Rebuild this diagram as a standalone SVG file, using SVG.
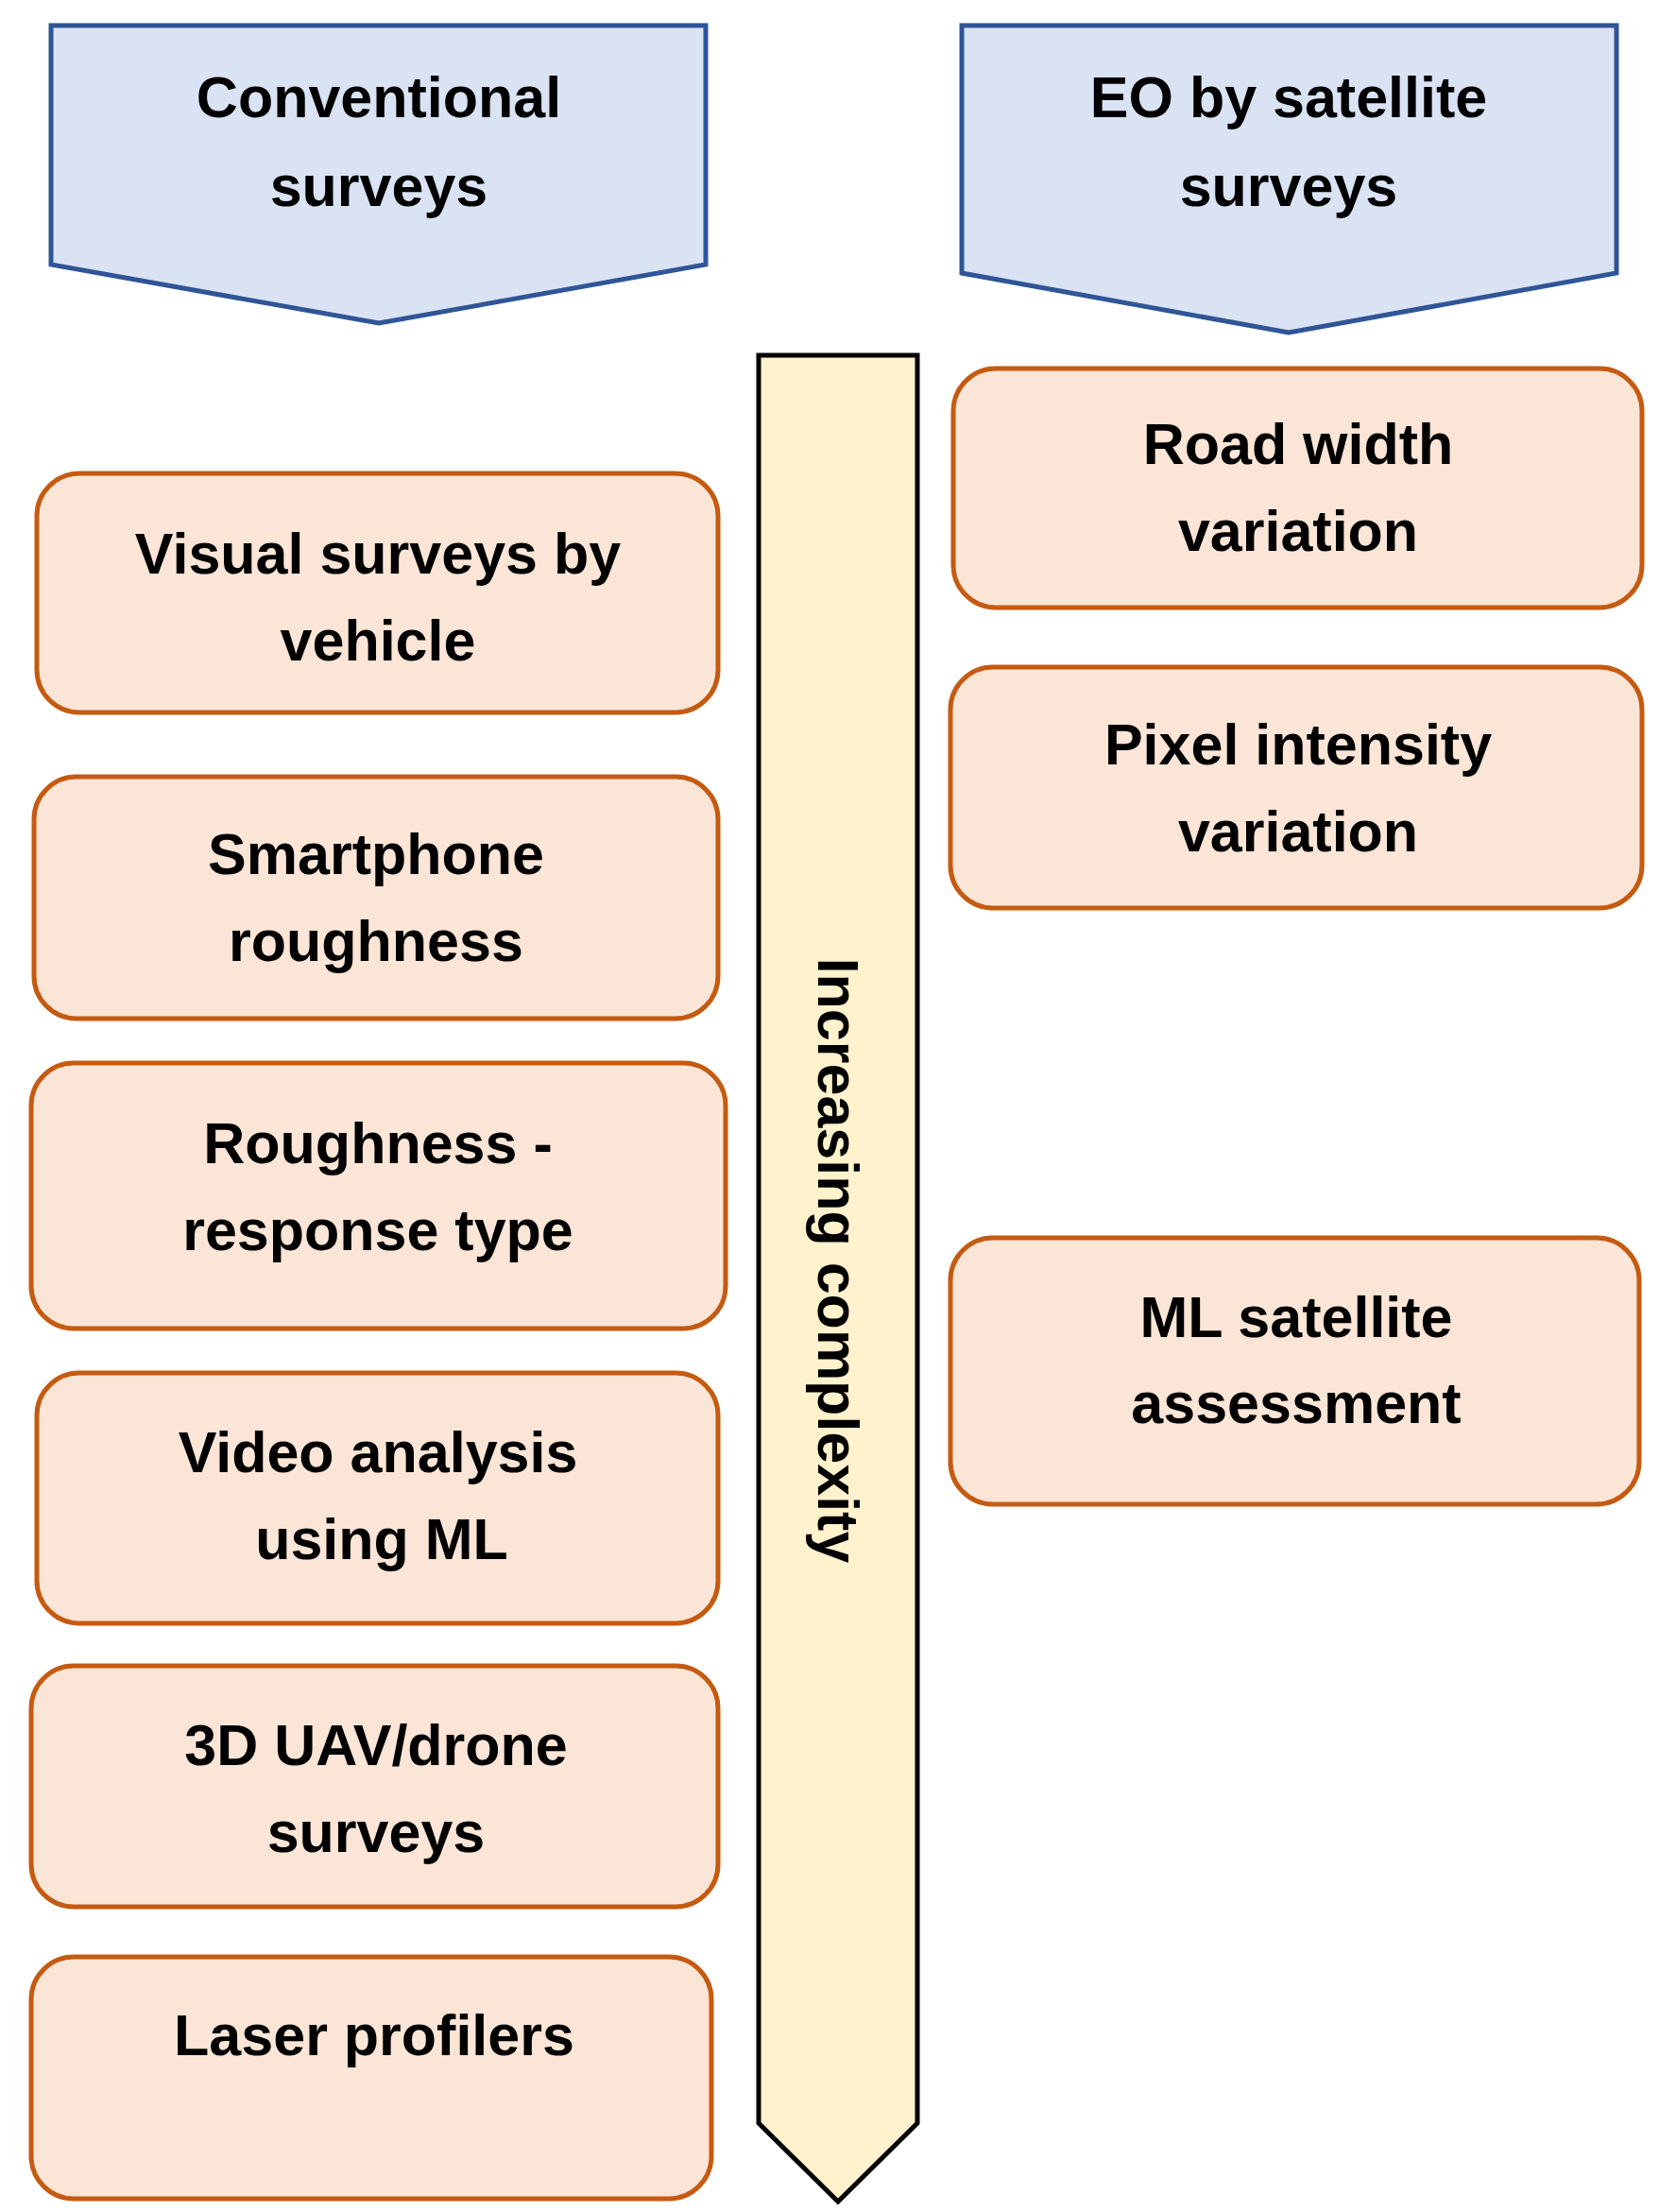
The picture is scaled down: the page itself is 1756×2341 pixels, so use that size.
<svg xmlns="http://www.w3.org/2000/svg" width="1756" height="2341" viewBox="0 0 1756 2341">
<style>
.hdr{fill:#dae3f3;stroke:#2f5597;stroke-width:5}
.box{fill:#fbe5d6;stroke:#c55a11;stroke-width:5}
.t{font-family:"Liberation Sans",Arial,sans-serif;font-weight:bold;font-size:61px;fill:#000;text-anchor:middle}
</style>
<rect width="1756" height="2341" fill="#fff"/>
<g id="hdr-left"><polygon class="hdr" points="54,27 747,27 747,280 401,342 54,280"/>
<text class="t" x="401" y="124">Conventional</text><text class="t" x="401" y="218">surveys</text></g>
<g id="hdr-right"><polygon class="hdr" points="1018,27 1711,27 1711,289 1364,352 1018,289"/>
<text class="t" x="1364" y="124">EO by satellite</text><text class="t" x="1364" y="218">surveys</text></g>
<g id="arrow"><polygon points="803,376 971,376 971,2247 887,2330 803,2247" fill="#fff2cc" stroke="#000" stroke-width="5"/>
<text class="t" transform="translate(866,1334) rotate(90)">Increasing complexity</text></g>
<g id="n1"><rect class="box" x="39" y="501" width="721" height="253" rx="45"/><text class="t" x="400" y="607">Visual surveys by</text><text class="t" x="400" y="699">vehicle</text></g>
<g id="n2"><rect class="box" x="36" y="822" width="724" height="256" rx="45"/><text class="t" x="398" y="925">Smartphone</text><text class="t" x="398" y="1017">roughness</text></g>
<g id="n3"><rect class="box" x="33" y="1125" width="735" height="281" rx="45"/><text class="t" x="400" y="1231">Roughness -</text><text class="t" x="400" y="1323">response type</text></g>
<g id="n4"><rect class="box" x="39" y="1453" width="721" height="265" rx="45"/><text class="t" x="400" y="1558">Video analysis</text><text class="t" x="404" y="1650">using ML</text></g>
<g id="n5"><rect class="box" x="33" y="1763" width="727" height="255" rx="45"/><text class="t" x="398" y="1868">3D UAV/drone</text><text class="t" x="398" y="1960">surveys</text></g>
<g id="n6"><rect class="box" x="33" y="2071" width="720" height="256" rx="45"/><text class="t" x="396" y="2175">Laser profilers</text></g>
<g id="n7"><rect class="box" x="1009" y="390" width="729" height="253" rx="45"/><text class="t" x="1374" y="491">Road width</text><text class="t" x="1374" y="583">variation</text></g>
<g id="n8"><rect class="box" x="1006" y="706" width="732" height="255" rx="45"/><text class="t" x="1374" y="809">Pixel intensity</text><text class="t" x="1374" y="901">variation</text></g>
<g id="n9"><rect class="box" x="1006" y="1310" width="729" height="282" rx="45"/><text class="t" x="1372" y="1415">ML satellite</text><text class="t" x="1372" y="1506">assessment</text></g>
<g id="connectors"></g>
</svg>
